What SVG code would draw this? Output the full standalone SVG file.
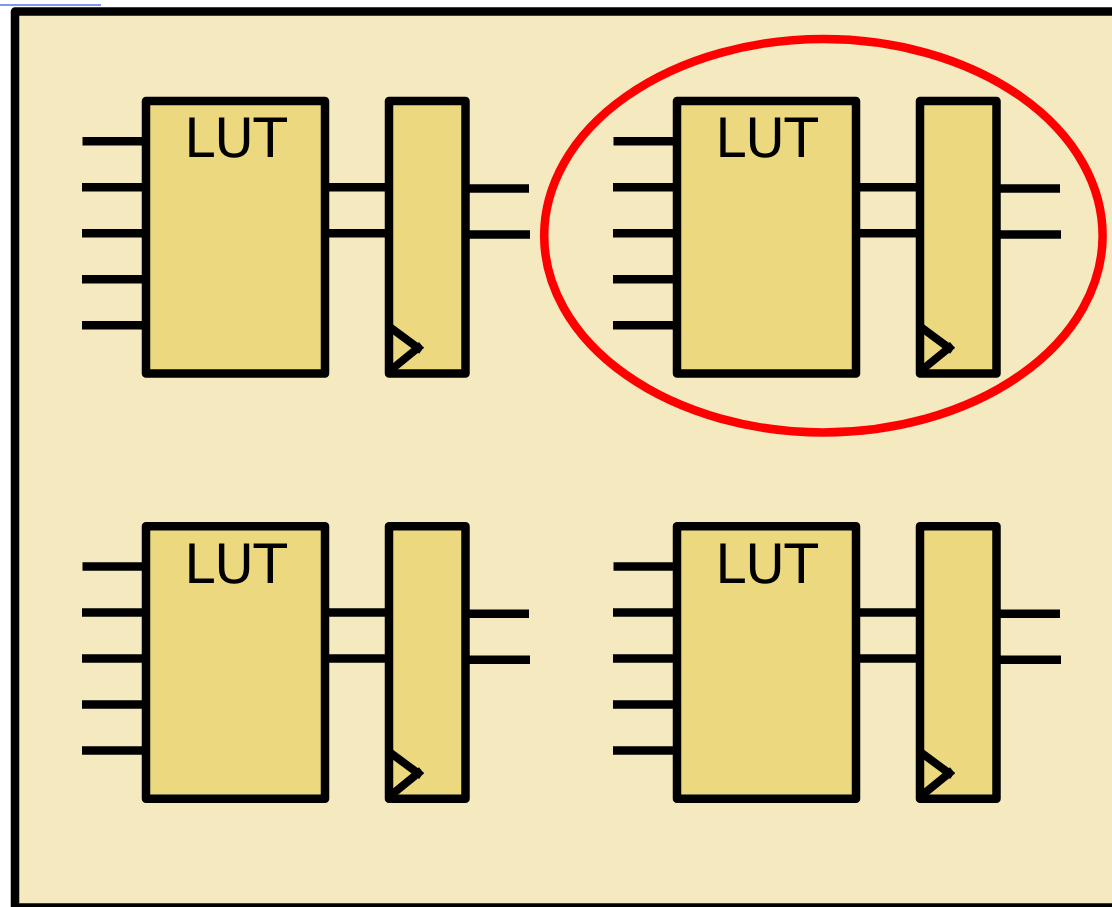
<svg xmlns="http://www.w3.org/2000/svg" xmlns:xlink="http://www.w3.org/1999/xlink" width="1112" height="907" viewBox="0 0 1112 907">
  <style>
    .box { fill: #ecd87f; stroke: #000; stroke-width: 8.500; stroke-linejoin: round; }
    .wire { fill: none; stroke: #000; stroke-width: 8.500; }
    .clk { fill: none; stroke: #000; stroke-width: 8; }
    .lbl { font-family: "DejaVu Sans", sans-serif; font-size: 54.200px; fill: #000; text-rendering: geometricPrecision; font-kerning: none; }
  </style>
  <defs>
    <g id="cell-shape">
      <rect class="box" x="146" y="101" width="179" height="272.500"/>
      <rect class="box" x="389" y="101" width="76.500" height="272.500"/>
      <path class="clk" d="M389 326.500 L421.500 350.500 M421.500 345 L389 371.500"/>
      <text class="lbl" x="184" y="157.300">LUT</text>
    </g>
    <g id="cell-wires">
      <path class="wire" d="M82.500 141.300H146M82 187.300H146M82 233.300H146M82 279.300H146M82 325.300H146"/>
      <path class="wire" d="M325 187.300H389M325 233.300H389"/>
      <path class="wire" d="M465 188.500H529M465 234.500H530"/>
    </g>
  </defs>
  <rect x="0" y="0" width="1112" height="907" fill="#fff"/>
  <rect x="0" y="4" width="101" height="2" fill="#7d95f3"/>
  <g id="panel"><rect x="15" y="11.500" width="1110" height="896" fill="#f5e9c0" stroke="#000" stroke-width="8.500" stroke-linejoin="round"/></g>
  <g id="connectors">
    <use xlink:href="#cell-wires" href="#cell-wires"/>
    <use xlink:href="#cell-wires" href="#cell-wires" x="531"/>
    <use xlink:href="#cell-wires" href="#cell-wires" y="425.300"/>
    <use xlink:href="#cell-wires" href="#cell-wires" x="531" y="425.300"/>
  </g>
  <g id="cell-top-left"><use xlink:href="#cell-shape" href="#cell-shape"/></g>
  <g id="cell-top-right"><use xlink:href="#cell-shape" href="#cell-shape" x="531"/></g>
  <g id="cell-bottom-left"><use xlink:href="#cell-shape" href="#cell-shape" y="425.300"/></g>
  <g id="cell-bottom-right"><use xlink:href="#cell-shape" href="#cell-shape" x="531" y="425.300"/></g>
  <g id="highlight"><ellipse cx="823.400" cy="235.700" rx="279.200" ry="196.700" fill="none" stroke="#f00" stroke-width="8.500"/></g>
</svg>
